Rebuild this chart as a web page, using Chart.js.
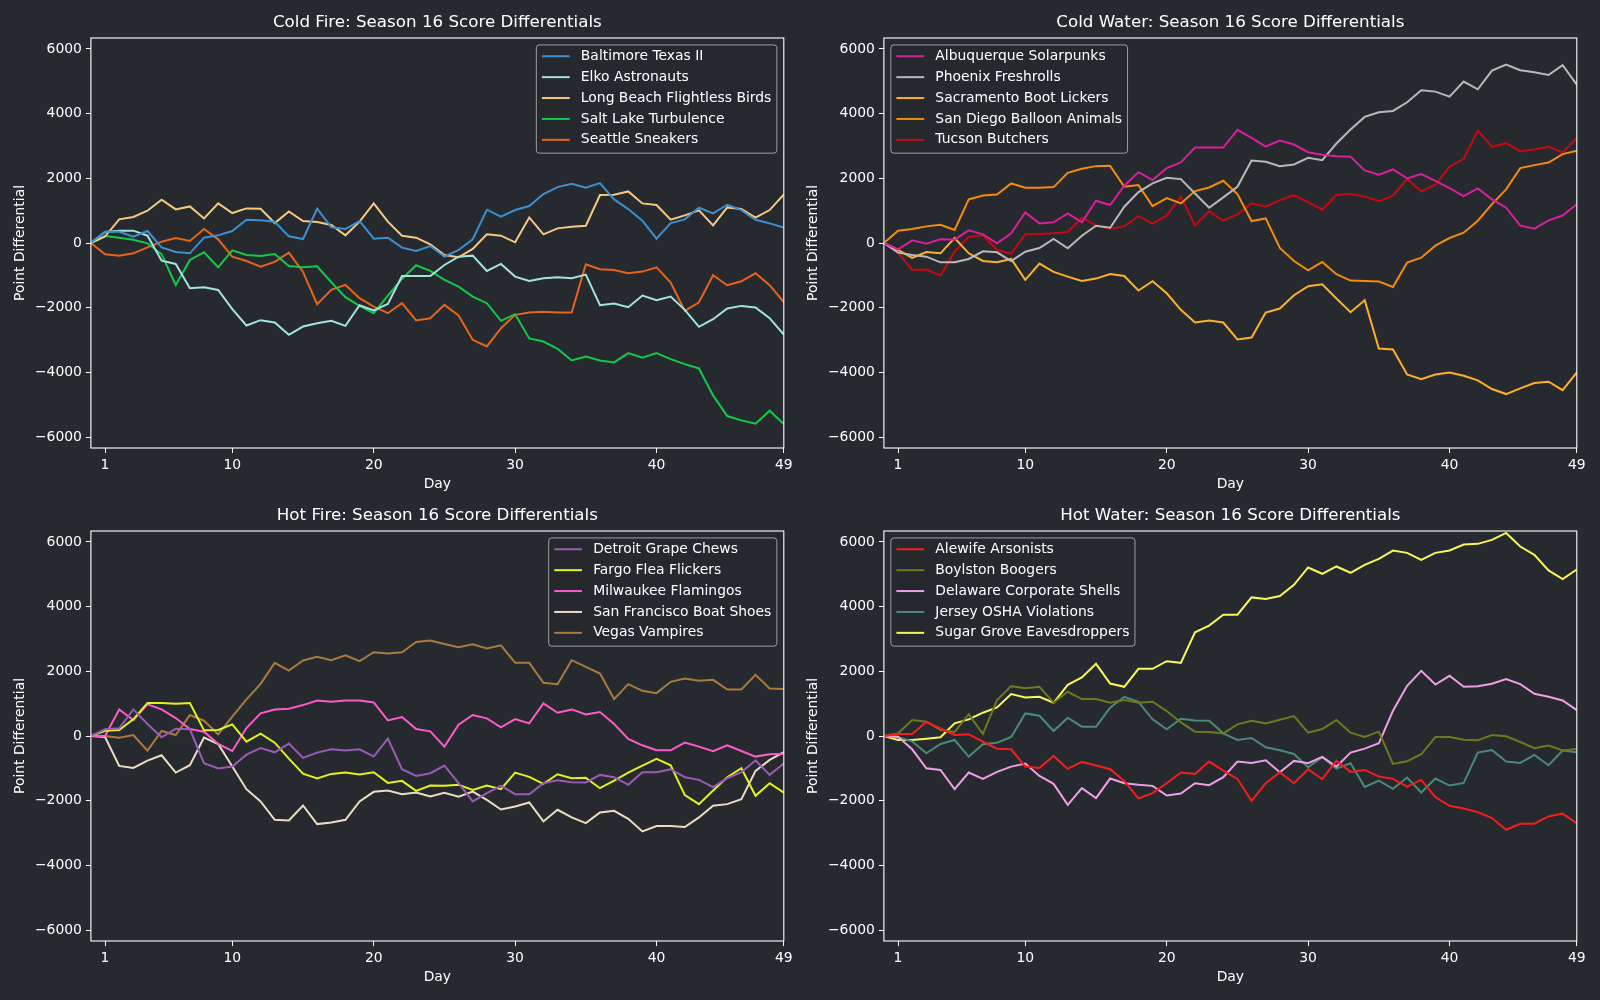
<!DOCTYPE html>
<html>
<head>
<meta charset="utf-8">
<script src="https://cdn.jsdelivr.net/npm/chart.js@4.4.1/dist/chart.umd.min.js"></script>
<style>
  body { margin: 0; background: #26292e; width: 1600px; height: 1000px; overflow: hidden; position: relative; }
  canvas { position: absolute; }
</style>
</head>
<body>
<canvas id="c1" width="800" height="500" style="left:0px;top:0px"></canvas>
<canvas id="c2" width="800" height="500" style="left:793.4px;top:0px"></canvas>
<canvas id="c3" width="800" height="500" style="left:0px;top:493px"></canvas>
<canvas id="c4" width="800" height="500" style="left:793.4px;top:493px"></canvas>
<script>
// Days (day 0 is the starting point) and tick labels
const days = [0, 1, 2, 3, 4, 5, 6, 7, 8, 9, 10, 11, 12, 13, 14, 15, 16, 17, 18, 19, 20, 21, 22, 23, 24,
  25, 26, 27, 28, 29, 30, 31, 32, 33, 34, 35, 36, 37, 38, 39, 40, 41, 42, 43, 44, 45, 46, 47, 48, 49];
const dayTicks = [1, 10, 20, 30, 40, 49];
const yTicks = [-6000, -4000, -2000, 0, 2000, 4000, 6000];

// Cold Fire
const baltimoreTexasII = [0, 350, 350, 196, 370, -134, -278, -319, 165, 237, 370, 720, 700, 658, 206, 123, 1060, 484, 432, 679, 134, 165, -144, -247, -93, -422, -216, 113, 1029, 813, 1019, 1142, 1513, 1729, 1832, 1708, 1852, 1348, 1050, 689, 134, 617, 730, 1091, 916, 1183, 1019, 720, 607, 480];
const elkoAstronauts = [0, 340, 381, 381, 226, -545, -648, -1400, -1369, -1451, -2047, -2552, -2387, -2459, -2840, -2583, -2480, -2408, -2562, -1924, -2088, -1883, -1019, -1019, -1019, -679, -422, -391, -864, -648, -1039, -1173, -1091, -1060, -1091, -978, -1924, -1873, -1986, -1626, -1770, -1657, -2068, -2593, -2356, -2027, -1945, -1996, -2326, -2830];
const longBeachFlightlessBirds = [0, 200, 731, 803, 998, 1338, 1040, 1132, 761, 1225, 926, 1070, 1060, 617, 978, 679, 648, 555, 237, 659, 1225, 659, 226, 165, -41, -370, -442, -185, 268, 226, 21, 792, 268, 453, 504, 535, 1482, 1492, 1595, 1225, 1173, 720, 854, 1008, 545, 1101, 1050, 782, 1019, 1500];
const saltLakeTurbulence = [0, 216, 165, 103, -10, -350, -1297, -525, -288, -751, -226, -370, -401, -339, -710, -751, -720, -1214, -1677, -1945, -2171, -1626, -1111, -689, -864, -1142, -1348, -1657, -1862, -2408, -2202, -2953, -3046, -3272, -3632, -3509, -3632, -3694, -3406, -3550, -3406, -3591, -3745, -3879, -4713, -5351, -5485, -5588, -5186, -5600];
const seattleSneakers = [0, -350, -391, -319, -134, 41, 154, 62, 432, 113, -422, -556, -730, -586, -298, -895, -1893, -1450, -1296, -1708, -1965, -2171, -1862, -2397, -2326, -1914, -2243, -2995, -3200, -2635, -2223, -2151, -2130, -2151, -2151, -658, -813, -833, -936, -885, -751, -1225, -2099, -1832, -998, -1306, -1183, -936, -1306, -1825];

// Cold Water
const albuquerqueSolarpunks = [0, -195, 82, -21, 113, 103, 391, 268, -10, 298, 947, 607, 638, 916, 638, 1307, 1173, 1770, 2192, 1945, 2315, 2490, 2953, 2953, 2953, 3498, 3251, 2984, 3169, 3045, 2809, 2727, 2686, 2665, 2243, 2109, 2274, 1996, 2130, 1924, 1698, 1451, 1687, 1348, 1091, 535, 442, 700, 850, 1200];
const phoenixFreshrolls = [0, -298, -370, -422, -597, -597, -494, -257, -288, -556, -268, -154, 123, -165, 226, 535, 473, 1122, 1574, 1842, 2017, 1976, 1533, 1091, 1410, 1739, 2552, 2511, 2377, 2428, 2634, 2562, 3077, 3509, 3900, 4044, 4085, 4353, 4723, 4682, 4528, 4991, 4754, 5331, 5516, 5341, 5279, 5197, 5500, 4900];
const sacramentoBootLickers = [0, -216, -463, -278, -319, 154, -319, -556, -597, -494, -1142, -638, -895, -1039, -1173, -1101, -957, -1019, -1471, -1183, -1554, -2068, -2459, -2397, -2459, -2984, -2922, -2150, -2027, -1615, -1337, -1276, -1718, -2140, -1770, -3262, -3293, -4065, -4209, -4065, -4003, -4106, -4250, -4517, -4672, -4497, -4332, -4291, -4550, -4000];
const sanDiegoBalloonAnimals = [0, 381, 432, 514, 566, 401, 1348, 1471, 1502, 1842, 1708, 1708, 1729, 2171, 2295, 2377, 2387, 1739, 1790, 1142, 1389, 1225, 1605, 1718, 1924, 1513, 680, 761, -154, -556, -844, -587, -967, -1163, -1173, -1194, -1358, -607, -453, -82, 154, 319, 689, 1204, 1657, 2315, 2408, 2490, 2750, 2850];
const tucsonButchers = [0, -298, -833, -823, -1008, -268, 196, 237, -216, -329, 268, 278, 298, 340, 782, 545, 442, 514, 833, 597, 844, 1430, 545, 978, 689, 885, 1225, 1122, 1327, 1471, 1266, 1029, 1482, 1513, 1440, 1296, 1461, 1976, 1595, 1801, 2356, 2603, 3478, 2974, 3087, 2840, 2892, 2974, 2800, 3250];

// Hot Fire
const detroitGrapeChews = [0, 206, 236, 822, 370, -41, 226, 206, -843, -1007, -946, -576, -370, -504, -236, -678, -514, -411, -452, -411, -637, -82, -1028, -1234, -1151, -915, -1460, -2025, -1768, -1532, -1799, -1799, -1460, -1367, -1429, -1439, -1203, -1275, -1511, -1120, -1120, -1028, -1275, -1357, -1583, -1306, -1120, -750, -1203, -850];
const fargoFleaFlickers = [0, 164, 185, 514, 1018, 1018, 997, 1018, 175, 185, 360, -175, 72, -206, -699, -1162, -1316, -1172, -1131, -1193, -1121, -1450, -1388, -1697, -1532, -1542, -1511, -1665, -1532, -1645, -1131, -1264, -1480, -1182, -1306, -1295, -1614, -1378, -1131, -915, -709, -905, -1830, -2107, -1686, -1275, -997, -1850, -1460, -1750];
const milwaukeeFlamingos = [0, 0, 822, 493, 977, 822, 555, 216, 134, -247, -463, 247, 699, 822, 843, 956, 1100, 1059, 1100, 1100, 1038, 483, 586, 216, 144, -329, 350, 648, 545, 267, 524, 391, 1007, 720, 822, 668, 740, 370, -93, -288, -442, -442, -206, -329, -473, -288, -463, -637, -565, -550];
const sanFranciscoBoatShoes = [0, -31, -925, -987, -761, -596, -1131, -905, -51, -247, -946, -1645, -2025, -2591, -2611, -2148, -2724, -2673, -2591, -2025, -1727, -1686, -1799, -1748, -1871, -1755, -1874, -1717, -1974, -2272, -2179, -2056, -2642, -2282, -2519, -2693, -2364, -2313, -2560, -2950, -2786, -2786, -2817, -2519, -2159, -2107, -1953, -1079, -740, -500];
const vegasVampires = [0, 0, -51, 31, -452, 154, 31, 648, 473, 51, 596, 1131, 1614, 2262, 2025, 2334, 2447, 2344, 2498, 2313, 2591, 2550, 2591, 2909, 2950, 2848, 2745, 2837, 2704, 2806, 2262, 2262, 1645, 1604, 2344, 2138, 1933, 1141, 1604, 1398, 1326, 1676, 1778, 1707, 1737, 1439, 1439, 1892, 1470, 1450];

// Hot Water
const alewifeArsonists = [0, 62, 62, 432, 236, 31, 51, -175, -391, -411, -946, -987, -617, -1018, -802, -915, -1028, -1388, -1933, -1768, -1460, -1131, -1172, -792, -1069, -1326, -2005, -1460, -1121, -1460, -1028, -1336, -761, -1110, -1049, -1254, -1326, -1563, -1357, -1892, -2159, -2241, -2354, -2539, -2899, -2714, -2714, -2488, -2400, -2700];
const boylstonBoogers = [0, 82, 493, 442, 185, 123, 678, 62, 1110, 1542, 1480, 1521, 1028, 1367, 1141, 1141, 1028, 1110, 1028, 1059, 771, 421, 134, 123, 82, 360, 473, 391, 504, 617, 103, 216, 493, 103, -31, 134, -864, -781, -565, -31, -31, -113, -134, 31, -10, -185, -380, -298, -450, -400];
const delawareCorporateShells = [0, -21, -411, -997, -1049, -1645, -1131, -1326, -1110, -946, -853, -1234, -1480, -2128, -1614, -1922, -1316, -1460, -1511, -1542, -1840, -1778, -1460, -1521, -1275, -792, -833, -750, -1121, -771, -843, -648, -946, -514, -391, -226, 781, 1552, 2015, 1593, 1861, 1521, 1542, 1614, 1758, 1604, 1306, 1213, 1100, 800];
const jerseyOshaViolations = [0, -41, -164, -535, -247, -123, -637, -257, -206, -31, 699, 627, 154, 565, 288, 288, 874, 1213, 1059, 514, 206, 535, 483, 473, 82, -123, -62, -350, -442, -555, -966, -658, -1008, -843, -1573, -1378, -1634, -1285, -1748, -1316, -1532, -1450, -514, -432, -792, -833, -586, -905, -450, -500];
const sugarGroveEavesdroppers = [0, -123, -123, -82, -41, 391, 514, 720, 884, 1295, 1193, 1213, 1028, 1583, 1809, 2231, 1624, 1521, 2077, 2077, 2313, 2262, 3207, 3413, 3752, 3752, 4287, 4235, 4328, 4677, 5212, 5017, 5243, 5048, 5294, 5479, 5736, 5664, 5448, 5664, 5736, 5921, 5942, 6065, 6281, 5860, 5603, 5120, 4850, 5150];

const coldFireTeams = ["Baltimore Texas II", "Elko Astronauts", "Long Beach Flightless Birds", "Salt Lake Turbulence", "Seattle Sneakers"];
const coldWaterTeams = ["Albuquerque Solarpunks", "Phoenix Freshrolls", "Sacramento Boot Lickers", "San Diego Balloon Animals", "Tucson Butchers"];
const hotFireTeams = ["Detroit Grape Chews", "Fargo Flea Flickers", "Milwaukee Flamingos", "San Francisco Boat Shoes", "Vegas Vampires"];
const hotWaterTeams = ["Alewife Arsonists", "Boylston Boogers", "Delaware Corporate Shells", "Jersey OSHA Violations", "Sugar Grove Eavesdroppers"];

// Line colours per panel
const coldFireColors = ["#3d8fce", "#a3e3df", "#f6c880", "#14c94a", "#e6641b"];
const coldWaterColors = ["#d81f9c", "#b9b9b9", "#fcb12b", "#f48b0c", "#c40a12"];
const hotFireColors = ["#9b5bb5", "#e2f21e", "#fc5cc8", "#ecdcc4", "#a97b3e"];
const hotWaterColors = ["#f51d1d", "#6b7a1f", "#ee9fe5", "#4b8a77", "#fbf65b"];

const FS = 13.9; // 10pt
Chart.defaults.font.family = '"DejaVu Sans", sans-serif';
Chart.defaults.font.size = FS;
Chart.defaults.color = "#ffffff";

function minusFmt(v) {
  return v < 0 ? "\u2212" + Math.abs(v) : String(v);
}

// Spines, panel title and matplotlib-style legend
const framePlugin = {
  id: "frame",
  afterDraw(chart, args, opts) {
    const ctx = chart.ctx;
    const a = chart.chartArea;
    ctx.save();
    ctx.strokeStyle = "#ffffff";
    ctx.lineWidth = 1.1;
    ctx.strokeRect(a.left, a.top, a.right - a.left, a.bottom - a.top);

    ctx.fillStyle = "#ffffff";
    ctx.font = '16.7px "DejaVu Sans", sans-serif';
    ctx.textAlign = "center";
    ctx.textBaseline = "middle";
    ctx.fillText(opts.title, (a.left + a.right) / 2, a.top - 15.6);

    // legend
    const sets = chart.data.datasets;
    ctx.font = FS + 'px "DejaVu Sans", sans-serif';
    let textW = 0;
    sets.forEach((d) => { textW = Math.max(textW, ctx.measureText(d.label).width); });
    const pad = 0.4 * FS, handle = 2 * FS, gap = 0.8 * FS, rowH = 20.9, axPad = 0.5 * FS;
    const boxW = pad + handle + gap + textW + pad;
    const boxH = 11.3 + (sets.length - 1) * rowH + 13.3;
    const x0 = opts.legendSide === "right" ? a.right - axPad - boxW : a.left + axPad;
    const y0 = a.top + axPad;
    ctx.beginPath();
    ctx.roundRect(x0, y0, boxW, boxH, 3);
    ctx.fillStyle = "rgba(38,41,46,0.8)";
    ctx.fill();
    ctx.strokeStyle = "rgba(255,255,255,0.55)";
    ctx.lineWidth = 1;
    ctx.stroke();
    ctx.textAlign = "left";
    sets.forEach((d, i) => {
      const cy = y0 + 11.3 + i * rowH;
      ctx.strokeStyle = d.borderColor;
      ctx.lineWidth = 2;
      ctx.beginPath();
      ctx.moveTo(x0 + pad, cy);
      ctx.lineTo(x0 + pad + handle, cy);
      ctx.stroke();
      ctx.fillStyle = "#ffffff";
      ctx.fillText(d.label, x0 + pad + handle + gap, cy);
    });
    ctx.restore();
  },
};

function makePanel(canvasId, title, teams, series, colors, legendSide) {
  new Chart(document.getElementById(canvasId), {
    type: "line",
    data: {
      datasets: series.map((s, i) => ({
        label: teams[i],
        data: s.map((v, j) => ({ x: days[j], y: v })),
        borderColor: colors[i],
        borderWidth: 2,
        pointRadius: 0,
        tension: 0,
        fill: false,
      })),
    },
    options: {
      responsive: false,
      animation: false,
      layout: { padding: { top: 38, right: 16.2, left: 0, bottom: 0 } },
      plugins: {
        legend: { display: false },
        tooltip: { enabled: false },
        frame: { title: title, legendSide: legendSide },
      },
      scales: {
        x: {
          type: "linear",
          min: 0,
          max: 49,
          afterBuildTicks: (s) => { s.ticks = dayTicks.map((v) => ({ value: v })); },
          afterFit: (s) => { s.height = 52; },
          ticks: { autoSkip: false, maxRotation: 0, padding: 4, color: "#ffffff" },
          grid: { display: true, drawOnChartArea: false, drawTicks: true, tickLength: 5, tickColor: "#ffffff" },
          border: { display: false },
          title: { display: true, text: "Day", color: "#ffffff", padding: { top: 0, bottom: 7 } },
        },
        y: {
          type: "linear",
          min: -6340,
          max: 6340,
          afterBuildTicks: (s) => { s.ticks = yTicks.map((v) => ({ value: v })); },
          afterFit: (s) => { s.width = 90.9; },
          ticks: { autoSkip: false, padding: 4, color: "#ffffff", callback: (v) => minusFmt(v) },
          grid: { display: true, drawOnChartArea: false, drawTicks: true, tickLength: 5, tickColor: "#ffffff" },
          border: { display: false },
          title: { display: true, text: "Point Differential", color: "#ffffff", padding: { top: 12, bottom: 0 } },
        },
      },
    },
    plugins: [framePlugin],
  });
}

makePanel("c1", "Cold Fire: Season 16 Score Differentials", coldFireTeams,
  [baltimoreTexasII, elkoAstronauts, longBeachFlightlessBirds, saltLakeTurbulence, seattleSneakers], coldFireColors, "right");
makePanel("c2", "Cold Water: Season 16 Score Differentials", coldWaterTeams,
  [albuquerqueSolarpunks, phoenixFreshrolls, sacramentoBootLickers, sanDiegoBalloonAnimals, tucsonButchers], coldWaterColors, "left");
makePanel("c3", "Hot Fire: Season 16 Score Differentials", hotFireTeams,
  [detroitGrapeChews, fargoFleaFlickers, milwaukeeFlamingos, sanFranciscoBoatShoes, vegasVampires], hotFireColors, "right");
makePanel("c4", "Hot Water: Season 16 Score Differentials", hotWaterTeams,
  [alewifeArsonists, boylstonBoogers, delawareCorporateShells, jerseyOshaViolations, sugarGroveEavesdroppers], hotWaterColors, "left");
</script>
</body>
</html>
